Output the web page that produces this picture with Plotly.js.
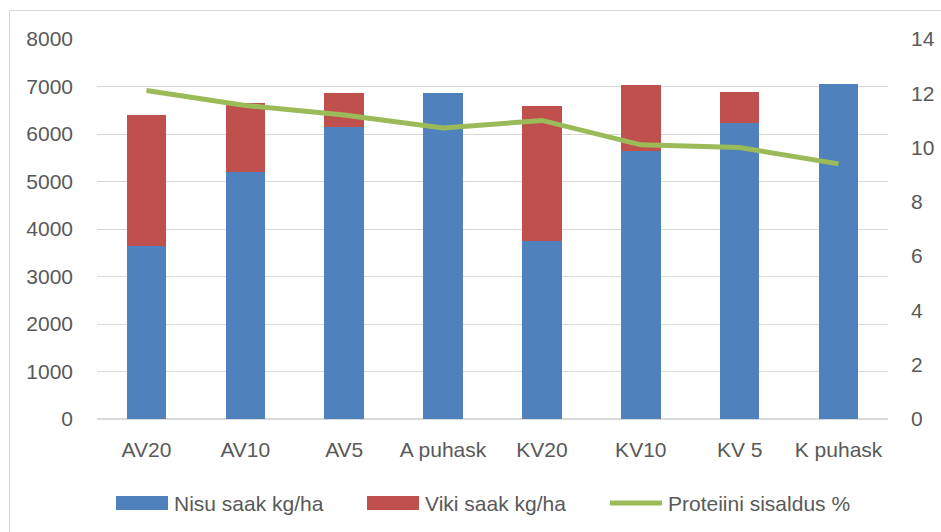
<!DOCTYPE html>
<html>
<head>
<meta charset="utf-8">
<script src="https://cdn.plot.ly/plotly-3.0.1.min.js"></script>
<style>
  html, body { margin: 0; padding: 0; background: #fff; overflow: hidden; }
  #frame { position: absolute; left: 9px; top: 10px; width: 940px; height: 530px; border: 1px solid #d9d9d9; box-sizing: border-box; }
  #chart { position: absolute; left: 0; top: 0; width: 941px; height: 532px; }
</style>
</head>
<body>
<div id="frame"></div>
<div id="chart"></div>
<script>
const categories = ["AV20", "AV10", "AV5", "A puhask", "KV20", "KV10", "KV 5", "K puhask"];
const nisuSaak = [3640, 5200, 6150, 6860, 3740, 5645, 6235, 7055];
const vikiSaak = [2750, 1445, 720, 0, 2850, 1395, 643, 0];
const proteiin = [12.1, 11.55, 11.2, 10.72, 11.0, 10.1, 10.0, 9.4];
const leftTicks = [0, 1000, 2000, 3000, 4000, 5000, 6000, 7000, 8000];
const rightTicks = [0, 2, 4, 6, 8, 10, 12, 14];
const seriesNames = ["Nisu saak kg/ha", "Viki saak kg/ha", "Proteiini sisaldus %"];

const font = { family: "Liberation Sans, Arial, sans-serif", size: 21, color: "#595959" };
const blue = "#4F81BD", red = "#C0504D", green = "#9BBB59";

const W = 941, H = 532;
const M = { l: 97, r: 53, t: 39, b: 113 };
const PW = W - M.l - M.r, PH = H - M.t - M.b;
const px2x = p => (p - M.l) / PW;
const px2y = p => (H - M.b - p) / PH;

const traces = [
  { type: "bar", name: seriesNames[0], x: categories, y: nisuSaak,
    marker: { color: blue } },
  { type: "bar", name: seriesNames[1], x: categories, y: vikiSaak,
    marker: { color: red } },
  { type: "scatter", mode: "lines", name: seriesNames[2], x: categories, y: proteiin,
    yaxis: "y2", line: { color: green, width: 5 } }
];

// custom legend (keys drawn as in the reference: wide swatches)
const legY = 503;
const shapes = [
  { type: "rect", xref: "paper", yref: "paper", x0: px2x(116), x1: px2x(168), y0: px2y(510), y1: px2y(496),
    fillcolor: blue, line: { width: 0 } },
  { type: "rect", xref: "paper", yref: "paper", x0: px2x(367), x1: px2x(419), y0: px2y(510), y1: px2y(496),
    fillcolor: red, line: { width: 0 } },
  { type: "line", xref: "paper", yref: "paper", x0: px2x(610), x1: px2x(662), y0: px2y(legY), y1: px2y(legY),
    line: { color: green, width: 5 } }
];
const annotations = [
  { text: seriesNames[0], x: px2x(172), xanchor: "left" },
  { text: seriesNames[1], x: px2x(423), xanchor: "left" },
  { text: seriesNames[2], x: px2x(666), xanchor: "left" }
].map(a => Object.assign({ xref: "paper", yref: "paper", y: px2y(legY), yanchor: "middle",
  showarrow: false, font: font }, a));

const layout = {
  width: W, height: H,
  margin: M,
  paper_bgcolor: "rgba(0,0,0,0)", plot_bgcolor: "rgba(0,0,0,0)",
  font: font,
  barmode: "stack",
  bargap: 0.6,
  showlegend: false,
  shapes: shapes,
  annotations: annotations,
  xaxis: { type: "category", showgrid: false, showline: false, zeroline: false,
           ticks: "", ticklabelstandoff: 16, tickfont: font },
  yaxis: { range: [0, 8000], tickvals: leftTicks, showgrid: true, gridcolor: "#d9d9d9",
           gridwidth: 1, zeroline: true, zerolinecolor: "#d9d9d9", zerolinewidth: 1.5,
           showline: false, ticks: "", ticklabelstandoff: 23, tickfont: font },
  yaxis2: { range: [0, 14], tickvals: rightTicks, overlaying: "y", side: "right",
            showgrid: false, zeroline: false, showline: false, ticks: "",
            ticklabelstandoff: 22, tickfont: font }
};

Plotly.newPlot("chart", traces, layout, { displayModeBar: false, staticPlot: true });
</script>
</body>
</html>
